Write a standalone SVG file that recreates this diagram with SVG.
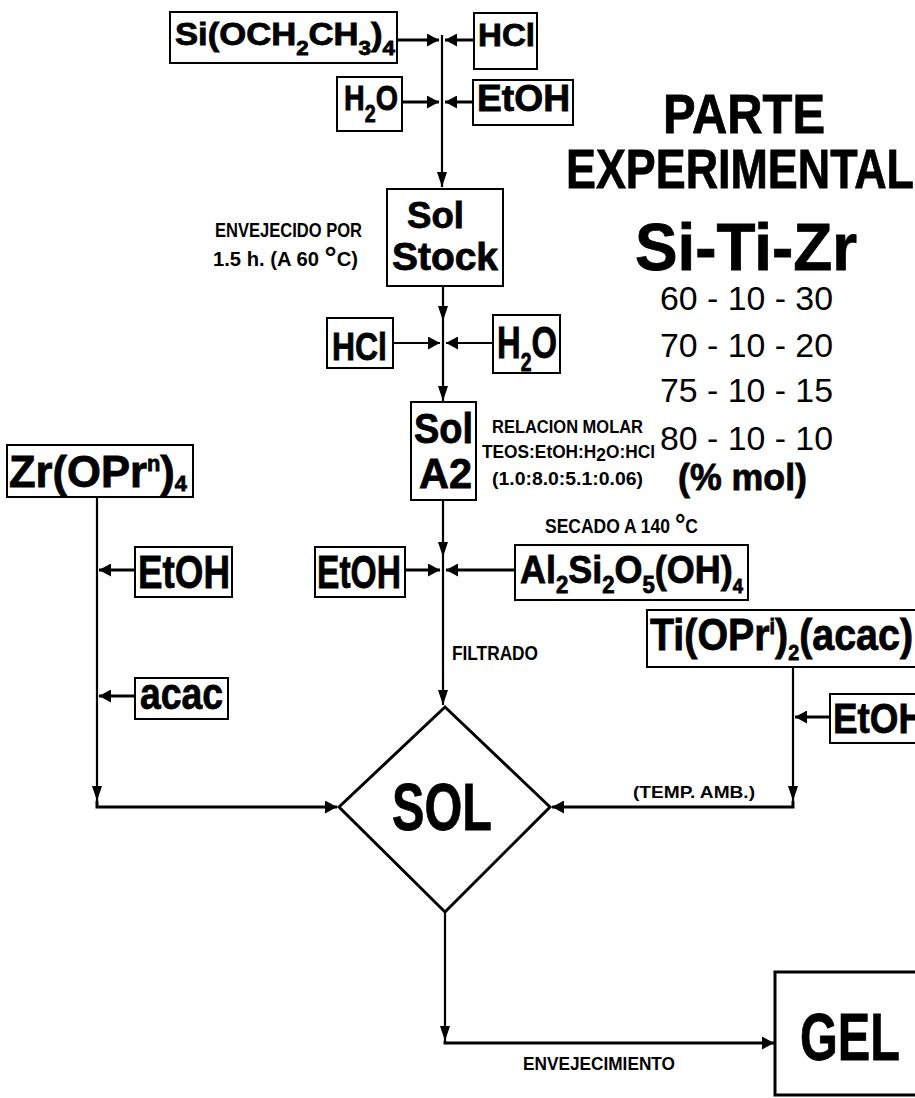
<svg xmlns="http://www.w3.org/2000/svg" width="915" height="1098" viewBox="0 0 915 1098">
<defs>
<style>
.b{fill:#fff;stroke:#000;stroke-width:2}
.t{font-family:"Liberation Sans",Arial,sans-serif;font-weight:bold;fill:#000}
.h{stroke:#000;stroke-width:0.8}
.n{font-family:"Liberation Sans",Arial,sans-serif;font-weight:normal;fill:#000}
.c{fill:none;stroke:#000;stroke-width:2.2}
.w{stroke-width:3}
</style>
<marker id="ah" markerUnits="userSpaceOnUse" markerWidth="12" markerHeight="13" refX="12" refY="6.5" orient="auto" viewBox="0 0 12 13"><path d="M0,0 L12,6.5 L0,13 z" fill="#000"/></marker>
<marker id="av" markerUnits="userSpaceOnUse" markerWidth="15" markerHeight="10" refX="15" refY="5" orient="auto" viewBox="0 0 15 10"><path d="M0,0 L15,5 L0,10 z" fill="#000"/></marker>
</defs>
<rect width="915" height="1098" fill="#fff"/>

<g id="connectors">
<path class="c" d="M442,35 V187" marker-end="url(#av)"/>
<path class="c w" d="M397,40 H439" marker-end="url(#ah)"/>
<path class="c w" d="M474,40 H445" marker-end="url(#ah)"/>
<path class="c w" d="M402,102 H439" marker-end="url(#ah)"/>
<path class="c w" d="M473,102 H445" marker-end="url(#ah)"/>
<path class="c" d="M443,286 V321" marker-end="url(#av)"/>
<path class="c" d="M443,321 V401" marker-end="url(#av)"/>
<path class="c" d="M393,343 H440" marker-end="url(#ah)"/>
<path class="c" d="M493,343 H446" marker-end="url(#ah)"/>
<path class="c" d="M443,500 V557" marker-end="url(#av)"/>
<path class="c" d="M443,557 V705" marker-end="url(#av)"/>
<path class="c w" d="M405,570 H440" marker-end="url(#ah)"/>
<path class="c w" d="M515,570 H446" marker-end="url(#ah)"/>
<path class="c" d="M97,497 V801" marker-end="url(#av)"/>
<path class="c w" d="M97,801 V807 H337" marker-end="url(#ah)"/>
<path class="c w" d="M135,570 H99" marker-end="url(#ah)"/>
<path class="c w" d="M135,696 H99" marker-end="url(#ah)"/>
<path class="c" d="M793,667 V801" marker-end="url(#av)"/>
<path class="c w" d="M793,801 V807 H552" marker-end="url(#ah)"/>
<path class="c w" d="M830,717 H795" marker-end="url(#ah)"/>
<path class="c" d="M445,912 V1041" marker-end="url(#av)"/>
<path class="c w" d="M445,1041 V1043 H774" marker-end="url(#ah)"/>
</g>

<g id="teos">
<rect class="b" x="170" y="12" width="227" height="51"/>
<text class="t h" x="175" y="45" font-size="31" textLength="220" lengthAdjust="spacingAndGlyphs">Si(OCH<tspan font-size="20" dy="10">2</tspan><tspan dy="-10">CH</tspan><tspan font-size="20" dy="10">3</tspan><tspan dy="-10">)</tspan><tspan font-size="20" dy="10">4</tspan></text>
</g>
<g id="hcl1">
<rect class="b" x="474" y="13" width="63" height="56"/>
<text class="t h" x="478" y="46" font-size="31" textLength="57" lengthAdjust="spacingAndGlyphs">HCl</text>
</g>
<g id="h2o1">
<rect class="b" x="337" y="77" width="65" height="54"/>
<text class="t h" x="344" y="110" font-size="35" textLength="54" lengthAdjust="spacingAndGlyphs">H<tspan font-size="24" dy="12">2</tspan><tspan dy="-12">O</tspan></text>
</g>
<g id="etoh1">
<rect class="b" x="473" y="80" width="100" height="45"/>
<text class="t h" x="477" y="111" font-size="36" textLength="93" lengthAdjust="spacingAndGlyphs">EtOH</text>
</g>

<g id="solstock">
<rect class="b" x="387" y="189" width="116" height="97"/>
<text class="t h" x="407" y="228" font-size="36" textLength="57" lengthAdjust="spacingAndGlyphs">Sol</text>
<text class="t h" x="392" y="270" font-size="38" textLength="106" lengthAdjust="spacingAndGlyphs">Stock</text>
</g>
<g id="hcl2">
<rect class="b" x="327" y="318" width="66" height="50"/>
<text class="t h" x="332" y="360" font-size="39" textLength="55" lengthAdjust="spacingAndGlyphs">HCl</text>
</g>
<g id="h2o2">
<rect class="b" x="493" y="315" width="67" height="58"/>
<text class="t h" x="497" y="358" font-size="44" textLength="60" lengthAdjust="spacingAndGlyphs">H<tspan font-size="26" dy="13">2</tspan><tspan dy="-13">O</tspan></text>
</g>
<g id="sola2">
<rect class="b" x="411" y="402" width="65" height="98"/>
<text class="t h" x="414" y="443" font-size="42" textLength="59" lengthAdjust="spacingAndGlyphs">Sol</text>
<text class="t h" x="419" y="488" font-size="42" textLength="53" lengthAdjust="spacingAndGlyphs">A2</text>
</g>

<g id="zr">
<rect class="b" x="7" y="445" width="186" height="52"/>
<text class="t h" x="9" y="487" font-size="44" textLength="178" lengthAdjust="spacingAndGlyphs">Zr(OPr<tspan font-size="22" dy="-16">n</tspan><tspan dy="16">)</tspan><tspan font-size="22" dy="4">4</tspan></text>
</g>
<g id="etoh2">
<rect class="b" x="135" y="547" width="97" height="50"/>
<text class="t h" x="138" y="588" font-size="46" textLength="92" lengthAdjust="spacingAndGlyphs">EtOH</text>
</g>
<g id="acac">
<rect class="b" x="135" y="678" width="93" height="41"/>
<text class="t h" x="140" y="709" font-size="45" textLength="83" lengthAdjust="spacingAndGlyphs">acac</text>
</g>
<g id="etoh3">
<rect class="b" x="315" y="547" width="90" height="50"/>
<text class="t h" x="317" y="588" font-size="46" textLength="84" lengthAdjust="spacingAndGlyphs">EtOH</text>
</g>
<g id="kaolin">
<rect class="b" x="515" y="545" width="233" height="55"/>
<text class="t h" x="520" y="583" font-size="39" textLength="223" lengthAdjust="spacingAndGlyphs">Al<tspan font-size="24" dy="10">2</tspan><tspan dy="-10">Si</tspan><tspan font-size="24" dy="10">2</tspan><tspan dy="-10">O</tspan><tspan font-size="24" dy="10">5</tspan><tspan dy="-10">(OH)</tspan><tspan font-size="20" dy="10">4</tspan></text>
</g>
<g id="ti">
<rect class="b" x="647" y="610" width="290" height="57"/>
<text class="t h" x="650" y="650" font-size="44" textLength="263" lengthAdjust="spacingAndGlyphs">Ti(OPr<tspan font-size="22" dy="-16">i</tspan><tspan dy="16">)</tspan><tspan font-size="22" dy="10">2</tspan><tspan dy="-10">(acac)</tspan></text>
</g>
<g id="etoh4">
<rect class="b" x="830" y="694" width="100" height="49"/>
<text class="t h" x="833" y="733" font-size="42" textLength="92" lengthAdjust="spacingAndGlyphs">EtOH</text>
</g>

<g id="sol">
<path d="M445,707 L550,807 L445,912 L339,807 Z" fill="#fff" stroke="#000" stroke-width="3"/>
<text class="t h" x="392" y="830" font-size="67" textLength="100" lengthAdjust="spacingAndGlyphs">SOL</text>
</g>
<g id="gel">
<rect x="775" y="972" width="160" height="123" fill="#fff" stroke="#000" stroke-width="3"/>
<text class="t h" x="800" y="1060" font-size="67" textLength="100" lengthAdjust="spacingAndGlyphs">GEL</text>
</g>

<g id="labels">
<text class="t" x="215" y="237" font-size="20" textLength="147" lengthAdjust="spacingAndGlyphs">ENVEJECIDO POR</text>
<text class="t" x="213" y="266" font-size="20" textLength="145" lengthAdjust="spacingAndGlyphs">1.5 h. (A 60 <tspan font-size="30" dy="2">°</tspan><tspan dy="-2">C)</tspan></text>
<text class="t" x="492" y="433" font-size="19" textLength="151" lengthAdjust="spacingAndGlyphs">RELACION MOLAR</text>
<text class="t" x="482" y="458" font-size="19" textLength="173" lengthAdjust="spacingAndGlyphs">TEOS:EtOH:H<tspan font-size="19" dy="3">2</tspan><tspan dy="-3">O:HCl</tspan></text>
<text class="t" x="492" y="485" font-size="19" textLength="151" lengthAdjust="spacingAndGlyphs">(1.0:8.0:5.1:0.06)</text>
<text class="t" x="545" y="533" font-size="20" textLength="153" lengthAdjust="spacingAndGlyphs">SECADO A 140 <tspan font-size="30" dy="2">°</tspan><tspan dy="-2">C</tspan></text>
<text class="t" x="452" y="660" font-size="20" textLength="86" lengthAdjust="spacingAndGlyphs">FILTRADO</text>
<text class="t" x="633" y="798" font-size="17" textLength="122" lengthAdjust="spacingAndGlyphs">(TEMP. AMB.)</text>
<text class="t" x="523" y="1070" font-size="18" textLength="152" lengthAdjust="spacingAndGlyphs">ENVEJECIMIENTO</text>
</g>

<g id="title">
<text class="t h" x="663" y="133" font-size="56" textLength="162" lengthAdjust="spacingAndGlyphs">PARTE</text>
<text class="t h" x="566" y="188" font-size="56" textLength="348" lengthAdjust="spacingAndGlyphs">EXPERIMENTAL</text>
<text class="t h" x="635" y="270" font-size="67" textLength="222" lengthAdjust="spacingAndGlyphs">Si-Ti-Zr</text>
<text class="n" x="660" y="310" font-size="33" textLength="173" lengthAdjust="spacingAndGlyphs">60 - 10 - 30</text>
<text class="n" x="660" y="357" font-size="33" textLength="173" lengthAdjust="spacingAndGlyphs">70 - 10 - 20</text>
<text class="n" x="660" y="402" font-size="33" textLength="173" lengthAdjust="spacingAndGlyphs">75 - 10 - 15</text>
<text class="n" x="660" y="450" font-size="33" textLength="173" lengthAdjust="spacingAndGlyphs">80 - 10 - 10</text>
<text class="t h" x="678" y="490" font-size="36" textLength="129" lengthAdjust="spacingAndGlyphs">(% mol)</text>
</g>
</svg>
